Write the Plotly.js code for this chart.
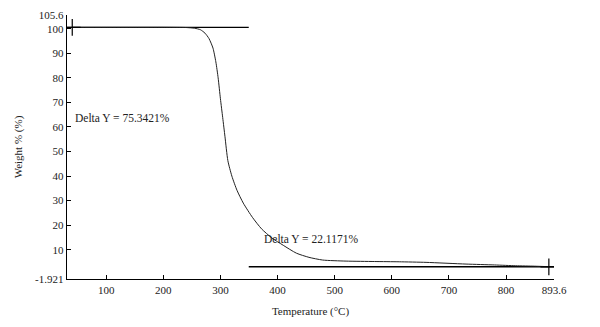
<!DOCTYPE html>
<html>
<head>
<meta charset="utf-8">
<script src="https://cdn.plot.ly/plotly-3.0.1.min.js"></script>
<style>body{margin:0;background:#fff}</style>
</head>
<body>
<div id="plot" style="width:600px;height:327px;"></div>
<script>
// TGA curve
var temp = [40, 100, 150, 200, 240, 255, 265, 273, 280, 287, 292, 296, 300, 304, 308, 313, 320, 329, 340, 356, 372, 390, 410, 433, 455, 479, 520, 570, 613, 660, 730, 780, 817, 850, 875];
var weight = [100.6, 100.6, 100.6, 100.6, 100.5, 100.2, 99.6, 98.2, 96.0, 92.1, 86.5, 80.0, 71.5, 63.8, 56.0, 46.3, 40.0, 34.2, 29.0, 23.2, 18.5, 14.8, 11.8, 8.6, 6.9, 5.8, 5.37, 5.2, 5.09, 4.85, 4.16, 3.8, 3.47, 3.3, 3.1];

// step reference lines and cursor points
var upperX = [31.4, 349.6], upperY = [100.6, 100.6];
var lowerX = [349.6, 884], lowerY = [3.07, 3.07];
var cursorX = [40.6, 875], cursorY = [100.6, 3.0];

var xTicks = [100, 200, 300, 400, 500, 600, 700, 800, 884];
var xTickText = ['100', '200', '300', '400', '500', '600', '700', '800', '893.6'];
var yTicks = [-1.921, 10, 20, 30, 40, 50, 60, 70, 80, 90, 100, 105.6];
var yTickText = ['-1.921', '10', '20', '30', '40', '50', '60', '70', '80', '90', '100', '105.6'];

var fnt = {family: 'Liberation Serif, Times New Roman, serif', size: 11, color: '#222'};

var curve = {
  x: temp, y: weight, mode: 'lines', type: 'scatter',
  line: {color: '#222', width: 1, shape: 'spline', smoothing: 0.6}
};
var upper = {
  x: upperX, y: upperY, mode: 'lines', type: 'scatter',
  line: {color: '#000', width: 1.3}
};
var lower = {
  x: lowerX, y: lowerY, mode: 'lines', type: 'scatter',
  line: {color: '#000', width: 1.3}
};
var cursors = {
  x: cursorX, y: cursorY, mode: 'markers', type: 'scatter',
  marker: {symbol: 'cross-thin', size: 12, line: {color: '#000', width: 1.2}}
};

var layout = {
  width: 600, height: 327,
  margin: {l: 67, r: 46, t: 15, b: 48},
  showlegend: false,
  paper_bgcolor: '#fff', plot_bgcolor: '#fff',
  font: fnt,
  xaxis: {
    range: [31.4, 884],
    tickvals: xTicks, ticktext: xTickText,
    ticks: 'inside', ticklen: 4, tickcolor: '#000',
    showline: true, linecolor: '#000', linewidth: 1.3,
    showgrid: false, zeroline: false,
    tickfont: fnt,
    title: {text: 'Temperature (°C)', font: fnt, standoff: 12}
  },
  yaxis: {
    range: [-1.921, 105.6],
    tickvals: yTicks, ticktext: yTickText,
    ticks: 'inside', ticklen: 4, tickcolor: '#000',
    showline: true, linecolor: '#000', linewidth: 1.3,
    showgrid: false, zeroline: false,
    tickfont: fnt,
    title: {text: 'Weight % (%)', font: fnt, standoff: 10}
  },
  annotations: [
    {x: 42.4, y: 63.7, xanchor: 'left', yanchor: 'middle', showarrow: false,
     text: 'Delta Y = 75.3421%', font: {family: fnt.family, size: 11.5, color: '#222'}},
    {x: 372, y: 14.3, xanchor: 'left', yanchor: 'middle', showarrow: false,
     text: 'Delta Y = 22.1171%', font: {family: fnt.family, size: 11.5, color: '#222'}}
  ]
};

Plotly.newPlot('plot', [upper, lower, curve, cursors], layout, {staticPlot: true});
</script>
</body>
</html>
